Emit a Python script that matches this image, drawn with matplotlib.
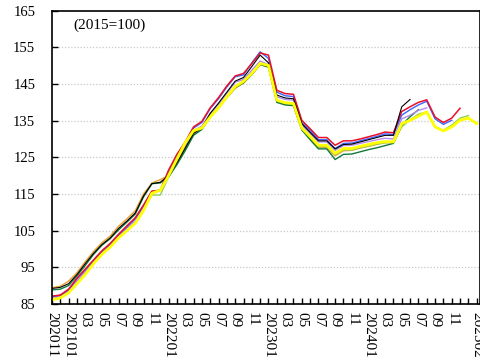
import matplotlib
import matplotlib.pyplot as plt
import numpy as np

matplotlib.use("Agg")

plt.rcParams['font.family'] = ['Liberation Serif', 'DejaVu Serif']

# monthly index values, first month = 2020-11
red = [87.1, 87.4, 89.0, 92.0, 94.5, 97.0, 99.5, 101.5, 104.0, 106.3, 108.5, 112.0, 115.8, 116.0,
       121.5, 125.8, 129.2, 133.3, 134.8, 138.5, 141.3, 144.5, 147.2, 147.9, 150.6, 153.5, 152.9,
       143.3, 142.4, 142.2, 135.1, 132.8, 130.4, 130.4, 128.3, 129.5, 129.5, 130.0, 130.6, 131.2,
       131.9, 131.7, 137.5, 138.8, 140.0, 140.7, 136.0, 134.5, 135.7, 138.4]
blue = [87.0, 87.3, 88.8, 91.8, 94.3, 96.8, 99.3, 101.3, 103.8, 106.0, 108.3, 111.8, 115.6, 116.0,
        121.0, 125.5, 129.0, 133.0, 134.5, 138.3, 141.0, 144.2, 147.0, 147.5, 150.8, 153.8, 152.0,
        142.8, 141.8, 141.6, 134.5, 132.3, 129.8, 129.8, 127.4, 128.8, 128.9, 129.5, 130.1, 130.7,
        131.4, 131.2, 136.5, 138.0, 139.3, 140.3, 135.5, 134.0, 135.1]
black = [89.2, 89.5, 90.5, 93.0, 96.0, 98.8, 101.2, 103.0, 105.6, 107.6, 109.8, 114.5, 117.8, 118.2,
         120.0, 123.5, 127.5, 131.5, 133.0, 137.0, 139.8, 142.8, 145.8, 146.8, 149.8, 152.9, 150.8,
         142.0, 141.2, 141.0, 134.2, 131.8, 129.5, 129.5, 127.3, 128.5, 128.6, 129.2, 129.8, 130.4,
         131.0, 131.0, 138.8, 140.8]
purple = [86.8, 87.2, 88.5, 91.2, 93.8, 96.6, 99.0, 101.0, 103.5, 105.6, 107.8, 111.5, 115.3, 116.0,
          120.5, 124.5, 128.3, 132.3, 133.5, 137.0, 139.5, 142.5, 145.5, 146.3, 148.8, 151.3, 150.3,
          141.5, 140.8, 140.6, 133.8, 131.5, 129.2, 129.2, 126.9, 128.2, 128.3, 128.8, 129.3, 129.8,
          130.2, 130.0, 135.5, 136.5, 137.8, 138.5]
dkgreen = [88.8, 89.0, 90.0, 92.6, 95.5, 98.5, 101.0, 102.8, 105.2, 107.3, 109.5, 114.2, 117.8, 118.0,
           119.6, 123.0, 126.8, 131.0, 132.6, 136.0, 138.6, 141.3, 144.0, 145.3, 147.6, 150.3, 149.6,
           140.0, 139.3, 139.1, 132.5, 129.8, 127.3, 127.3, 124.4, 125.8, 125.9, 126.5, 127.1, 127.6,
           128.2, 128.8, 133.8, 136.1, 138.0]
ltgreen = [86.4, 86.9, 88.2, 90.8, 93.3, 96.3, 98.8, 100.8, 103.2, 105.2, 107.2, 110.6, 114.7, 114.7,
           119.6, 123.8, 128.0, 132.0, 133.2, 136.3, 138.8, 141.6, 144.5, 145.8, 148.0, 150.5, 149.8,
           140.3, 139.6, 139.4, 132.7, 130.3, 127.9, 127.9, 125.7, 127.0, 127.0, 127.6, 128.1, 128.6,
           129.0, 129.0, 133.3, 135.2, 136.8, 137.4, 133.3, 132.4, 133.8, 135.7, 136.4]
orange = [89.4, 89.8, 91.2, 93.5, 96.5, 99.3, 101.7, 103.5, 106.2, 108.2, 110.4, 115.0, 118.0, 118.9,
          120.0, 123.5, 127.3, 131.6, 132.8, 136.0, 138.5, 141.3, 143.8, 145.3, 147.6, 150.3, 149.8,
          140.2, 139.5, 139.3, 132.6, 130.0, 127.7, 127.7, 125.4, 126.8, 126.9, 127.5, 128.0, 128.5,
          129.0, 129.0, 133.9, 135.0, 136.3, 137.2, 133.2, 132.2, 133.4]
yellow = [86.1, 86.6, 88.0, 90.5, 93.0, 96.0, 98.5, 100.5, 103.0, 105.0, 107.0, 110.5, 115.2, 116.0,
          120.0, 124.5, 129.0, 132.3, 133.0, 136.0, 138.5, 141.5, 144.3, 145.7, 147.9, 150.6, 150.1,
          140.6, 139.9, 139.7, 133.0, 130.7, 128.3, 128.3, 126.1, 127.4, 127.4, 128.0, 128.5, 129.0,
          129.3, 129.2, 134.2, 135.1, 136.2, 137.4, 133.3, 132.2, 133.3, 135.1, 135.7, 134.2]

n_months = 52
tick_labels = {0: "202011", 2: "202101", 14: "202201", 26: "202301", 38: "202401", 51: "202502"}
for m in range(4, 49, 2):
    if m not in tick_labels:
        tick_labels[m] = "%02d" % ((10 + m) % 12 + 1)

fig = plt.figure(figsize=(4.81, 3.60), dpi=100)
ax = fig.add_axes([0.108, 0.156, 0.890, 0.814])

series = [
    (orange, "#f0a030", 1.0),
    (ltgreen, "#92d050", 1.0),
    (dkgreen, "#107a3a", 1.0),
    (purple, "#b48ce6", 1.0),
    (blue, "#3c64ff", 1.0),
    (red, "#e8102a", 1.1),
    (black, "#000000", 0.8),
    (yellow, "#ffff00", 2.0),
]
for vals, col, lw in series:
    ax.plot(np.arange(len(vals)), vals, color=col, lw=lw)

ax.set_xlim(0, 51.4)
ax.set_ylim(85, 165)
ax.set_yticks(np.arange(85, 166, 10))
ax.set_xticks(np.arange(n_months))
ax.set_xticklabels([tick_labels.get(m, "") for m in range(n_months)], rotation=-90, fontsize=11)
ax.tick_params(axis="x", direction="in", length=4, pad=6, width=1)
ax.tick_params(axis="y", direction="in", length=4, pad=12, labelsize=10.5, width=1)

for v in range(95, 160, 10):
    ax.axhline(v, color="#c8c8c8", lw=0.9, ls=(0, (1, 1.5)), zorder=0)

for s in ax.spines.values():
    s.set_linewidth(1.2)

ax.text(0.135, 0.951, "(2015=100)", transform=ax.transAxes, ha="center", va="center", fontsize=11)

plt.savefig("out.png", dpi=100)
